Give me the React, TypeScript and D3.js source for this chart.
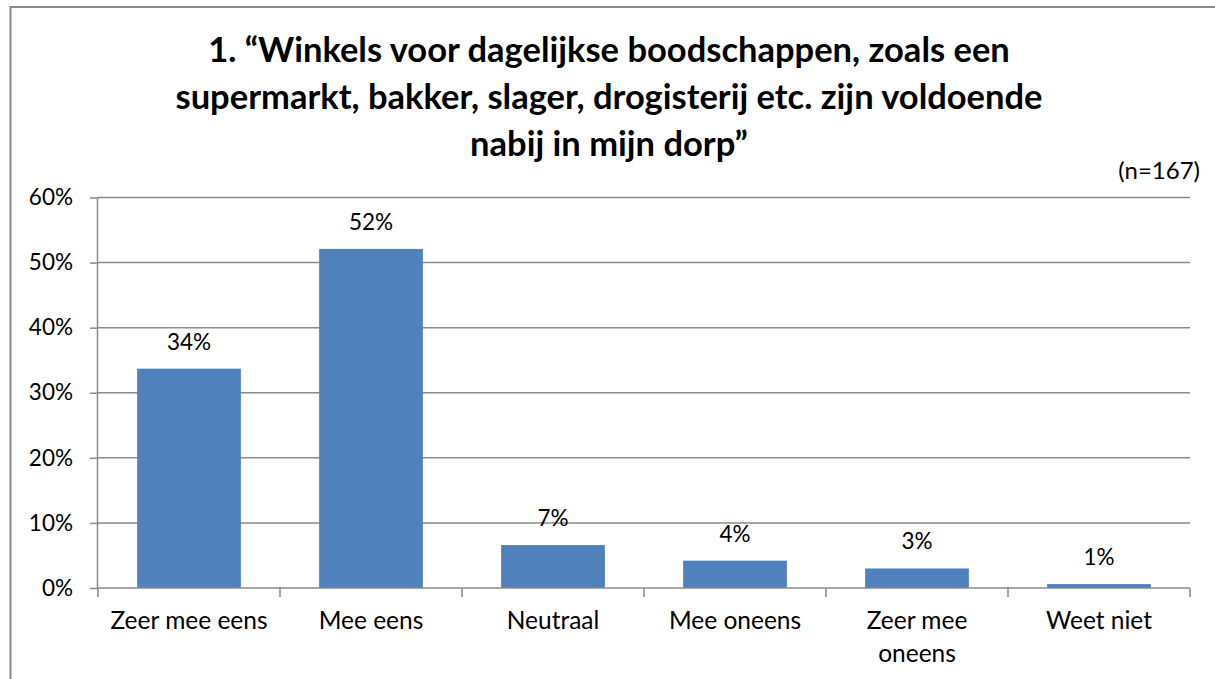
import * as d3 from "d3";
import { useRef, useEffect } from "react";

// survey answers, share of respondents
const categories = ["Zeer mee eens", "Mee eens", "Neutraal", "Mee oneens", "Zeer mee oneens", "Weet niet"];
const values = [0.337, 0.521, 0.066, 0.042, 0.030, 0.006];
const yTicks = [0, 0.1, 0.2, 0.3, 0.4, 0.5, 0.6];
const titleLines = [
  "1. \u201cWinkels voor dagelijkse boodschappen, zoals een",
  "supermarkt, bakker, slager, drogisterij etc. zijn voldoende",
  "nabij in mijn dorp\u201d",
];
const sampleNote = "(n=167)";

// labels that Excel wraps onto two lines
const wrapped: Record<string, string[]> = {
  "Zeer mee oneens": ["Zeer mee", "oneens"],
};

const App = () => {
  const ref = useRef<SVGSVGElement>(null);

  useEffect(() => {
    document.body.style.margin = "0";
    document.body.style.overflow = "hidden";

    const width = 1215;
    const height = 679;
    const marginLeft = 98;
    const marginRight = 25;
    const marginTop = 197.5;
    const marginBottom = 91;
    const font = "Lato, 'Open Sans', sans-serif";
    const grid = "#8a8a8a";

    const svg = d3.select(ref.current);
    svg.selectAll("*").remove();

    svg.append("rect")
      .attr("width", width)
      .attr("height", height)
      .attr("fill", "#fff");

    // outer chart frame: only the top and left edges are inside the picture
    svg.append("path")
      .attr("d", `M10.5,${height}V7H${width}`)
      .attr("fill", "none")
      .attr("stroke", grid)
      .attr("stroke-width", 2);

    const x = d3.scaleBand()
      .domain(categories)
      .range([marginLeft, width - marginRight])
      .paddingInner(0.43)
      .paddingOuter(0.215);

    const y = d3.scaleLinear()
      .domain([0, 0.6])
      .range([height - marginBottom, marginTop]);

    // title
    svg.append("g")
      .attr("font-family", font)
      .attr("font-weight", "bold")
      .attr("font-size", 34.5)
      .attr("text-anchor", "middle")
      .selectAll("text")
      .data(titleLines)
      .join("text")
      .attr("x", 609)
      .attr("y", (d, i) => 62 + i * 47)
      .text(d => d);

    svg.append("text")
      .attr("x", 1200)
      .attr("y", 179)
      .attr("text-anchor", "end")
      .attr("font-family", font)
      .attr("font-size", 24)
      .text(sampleNote);

    // gridlines
    svg.append("g")
      .selectAll("line")
      .data(yTicks.filter(t => t > 0))
      .join("line")
      .attr("x1", marginLeft)
      .attr("x2", width - marginRight)
      .attr("y1", d => y(d))
      .attr("y2", d => y(d))
      .attr("stroke", grid)
      .attr("stroke-width", 1.5);

    // y axis
    const yAxis = d3.axisLeft(y)
      .tickValues(yTicks)
      .tickFormat(d3.format(".0%"))
      .tickSize(8)
      .tickPadding(17);

    svg.append("g")
      .attr("transform", `translate(${marginLeft},0)`)
      .call(yAxis)
      .call(g => g.select(".domain").attr("stroke", grid).attr("stroke-width", 1.5).attr("d", `M-0.5,${y(0)}V${y(0.6)}`))
      .call(g => g.selectAll(".tick line").attr("stroke", grid).attr("stroke-width", 1.5))
      .call(g => g.selectAll(".tick text")
        .attr("font-family", font)
        .attr("font-size", 22.5)
        .attr("fill", "#000"));

    // bars
    svg.append("g")
      .attr("fill", "#4f81bd")
      .selectAll("rect")
      .data(categories)
      .join("rect")
      .attr("x", d => x(d)!)
      .attr("width", x.bandwidth())
      .attr("y", (d, i) => y(values[i]))
      .attr("height", (d, i) => y(0) - y(values[i]));

    // value labels
    svg.append("g")
      .attr("font-family", font)
      .attr("font-size", 22.5)
      .attr("text-anchor", "middle")
      .selectAll("text")
      .data(categories)
      .join("text")
      .attr("x", d => x(d)! + x.bandwidth() / 2)
      .attr("y", (d, i) => y(values[i]) - 19)
      .text((d, i) => d3.format(".0%")(values[i]));

    // x axis with tick marks between categories
    const step = x.step();
    const bounds = d3.range(categories.length + 1).map(i => marginLeft + i * step);
    const xg = svg.append("g");
    xg.append("line")
      .attr("x1", marginLeft)
      .attr("x2", width - marginRight)
      .attr("y1", y(0))
      .attr("y2", y(0))
      .attr("stroke", grid)
      .attr("stroke-width", 1.5);
    xg.selectAll(".tk")
      .data(bounds)
      .join("line")
      .attr("class", "tk")
      .attr("x1", d => d)
      .attr("x2", d => d)
      .attr("y1", y(0))
      .attr("y2", y(0) + 9)
      .attr("stroke", grid)
      .attr("stroke-width", 1.5);

    const labels = xg.selectAll(".cat")
      .data(categories)
      .join("text")
      .attr("class", "cat")
      .attr("font-family", font)
      .attr("font-size", 24.5)
      .attr("text-anchor", "middle")
      .attr("x", d => x(d)! + x.bandwidth() / 2)
      .attr("y", y(0) + 41);
    labels.selectAll("tspan")
      .data(d => (wrapped[d] || [d]).map(t => ({ t, x: x(d)! + x.bandwidth() / 2 })))
      .join("tspan")
      .attr("x", d => d.x)
      .attr("dy", (d, i) => (i === 0 ? 0 : 33))
      .text(d => d.t);
  }, []);

  return (
    <div style={{ position: "absolute", left: 0, top: 0, width: 1215, height: 679, overflow: "hidden" }}>
      <svg ref={ref} width={1215} height={679} style={{ display: "block" }} />
    </div>
  );
};

export default App;
